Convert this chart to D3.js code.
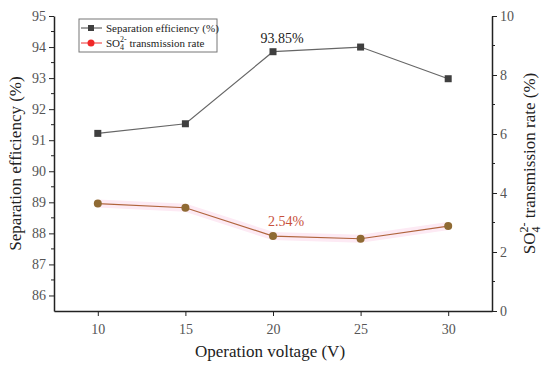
<!DOCTYPE html>
<html>
<head>
<meta charset="utf-8">
<script src="https://cdn.jsdelivr.net/npm/d3@7"></script>
<style>
  body { margin: 0; background: #fff; }
</style>
</head>
<body>
<svg id="chart" width="550" height="369" font-family="Liberation Serif"></svg>
<script>
// voltage categories (V)
var voltages = [10, 15, 20, 25, 30]
// separation efficiency (%)
var separation = [91.22, 91.53, 93.85, 94.0, 92.98]
// SO4 2- transmission rate (%)
var transmission = [3.64, 3.50, 2.54, 2.45, 2.88]
var xTicks = [10, 15, 20, 25, 30]
var leftTicks = [86, 87, 88, 89, 90, 91, 92, 93, 94, 95]
var rightTicks = [0, 2, 4, 6, 8, 10]

var FONT = "Liberation Serif"
var svg = d3.select("#chart")
var plotL = 54, plotR = 492, plotT = 16, plotB = 311

var x = d3.scaleLinear().domain([7.5, 32.5]).range([plotL, plotR])
var yL = d3.scaleLinear().domain([85.5, 95]).range([plotB, plotT])
var yR = d3.scaleLinear().domain([0, 10]).range([plotB, plotT])

// axes
var xAxis = svg.append("g").attr("transform", "translate(0," + plotB + ")")
  .call(d3.axisBottom(x).tickValues(xTicks).tickSize(5).tickSizeOuter(0))
var lAxis = svg.append("g").attr("transform", "translate(" + plotL + ",0)")
  .call(d3.axisLeft(yL).tickValues(leftTicks).tickSize(5).tickSizeOuter(0))
var rAxis = svg.append("g").attr("transform", "translate(" + plotR + ",0)")
  .call(d3.axisRight(yR).tickValues(rightTicks).tickSize(5).tickSizeOuter(0))

// minor ticks
svg.append("g").selectAll("line")
  .data(d3.range(86.5, 95, 1))
  .enter().append("line")
  .attr("x1", plotL).attr("x2", plotL - 3)
  .attr("y1", function(d){ return yL(d) }).attr("y2", function(d){ return yL(d) })
  .attr("stroke", "#222").attr("stroke-width", 1)
svg.append("g").selectAll("line")
  .data([1, 3, 5, 7, 9])
  .enter().append("line")
  .attr("x1", plotR).attr("x2", plotR + 3)
  .attr("y1", function(d){ return yR(d) }).attr("y2", function(d){ return yR(d) })
  .attr("stroke", "#222").attr("stroke-width", 1)

;[xAxis, lAxis, rAxis].forEach(function(a){
  a.attr("font-family", FONT)
  a.select(".domain").attr("stroke", "#222").attr("stroke-width", 1.5)
  a.selectAll(".tick line").attr("stroke", "#222").attr("stroke-width", 1)
  a.selectAll(".tick text").attr("font-family", FONT).attr("font-size", 14).attr("fill", "#555")
})
xAxis.selectAll(".tick text").attr("dy", "1.1em")

// axis titles
svg.append("text").attr("x", 270).attr("y", 357).attr("text-anchor", "middle")
  .attr("font-family", FONT).attr("font-size", 17).attr("fill", "#222").text("Operation voltage (V)")
svg.append("text").attr("transform", "translate(21," + ((plotT + plotB) / 2) + ") rotate(-90)")
  .attr("text-anchor", "middle").attr("font-family", FONT).attr("font-size", 17).attr("fill", "#222")
  .text("Separation efficiency (%)")
var rt = svg.append("text").attr("transform", "translate(535," + ((plotT + plotB) / 2) + ") rotate(-90)")
  .attr("text-anchor", "middle").attr("font-family", FONT).attr("font-size", 17).attr("fill", "#222")
rt.append("tspan").text("SO")
rt.append("tspan").attr("font-size", 12).attr("dy", 5).text("4")
rt.append("tspan").attr("font-size", 12).attr("dy", -12).attr("dx", -6).text("2-")
rt.append("tspan").attr("dy", 7).text(" transmission rate (%)")

// pink glow band behind transmission line
var lineR = d3.line().x(function(d, i){ return x(voltages[i]) }).y(function(d){ return yR(d) })
svg.append("path").datum(transmission).attr("d", lineR)
  .attr("fill", "none").attr("stroke", "#fdeaf4").attr("stroke-width", 8).attr("stroke-linecap", "butt")

// separation series
var lineL = d3.line().x(function(d, i){ return x(voltages[i]) }).y(function(d){ return yL(d) })
svg.append("path").datum(separation).attr("d", lineL)
  .attr("fill", "none").attr("stroke", "#666").attr("stroke-width", 1.2)
svg.append("g").selectAll("rect")
  .data(separation)
  .enter().append("rect")
  .attr("x", function(d, i){ return x(voltages[i]) - 3.5 })
  .attr("y", function(d){ return yL(d) - 3.5 })
  .attr("width", 7).attr("height", 7)
  .attr("fill", "#3f3f3f")

// transmission series
svg.append("path").datum(transmission).attr("d", lineR)
  .attr("fill", "none").attr("stroke", "#b0643c").attr("stroke-width", 1.2)
svg.append("g").selectAll("circle")
  .data(transmission)
  .enter().append("circle")
  .attr("cx", function(d, i){ return x(voltages[i]) })
  .attr("cy", function(d){ return yR(d) })
  .attr("r", 4)
  .attr("fill", "#8f6a33")

// annotations
svg.append("text").attr("x", x(20) + 9).attr("y", yL(93.85) - 9).attr("text-anchor", "middle")
  .attr("font-family", FONT).attr("font-size", 14).attr("fill", "#222").text("93.85%")
svg.append("text").attr("x", x(20) + 13).attr("y", yR(2.54) - 10).attr("text-anchor", "middle")
  .attr("font-family", FONT).attr("font-size", 14).attr("fill", "#c8503c").text("2.54%")

// legend
var lg = svg.append("g").attr("transform", "translate(79,19)").attr("font-family", FONT)
lg.append("rect").attr("width", 138).attr("height", 33)
  .attr("fill", "#fff").attr("stroke", "#777").attr("stroke-width", 1)
lg.append("line").attr("x1", 2).attr("x2", 23).attr("y1", 9).attr("y2", 9).attr("stroke", "#444")
lg.append("rect").attr("x", 9).attr("y", 6).attr("width", 6).attr("height", 6).attr("fill", "#3f3f3f")
lg.append("text").attr("x", 27).attr("y", 13).attr("font-size", 11).attr("fill", "#222")
  .text("Separation efficiency (%)")
lg.append("line").attr("x1", 2).attr("x2", 23).attr("y1", 24).attr("y2", 24).attr("stroke", "#f03030")
lg.append("circle").attr("cx", 12).attr("cy", 24).attr("r", 3.5).attr("fill", "#f02828")
var lt = lg.append("text").attr("x", 27).attr("y", 28).attr("font-size", 11).attr("fill", "#222")
lt.append("tspan").text("SO")
lt.append("tspan").attr("font-size", 8).attr("dy", 3).text("4")
lt.append("tspan").attr("font-size", 8).attr("dy", -8).attr("dx", -4).text("2-")
lt.append("tspan").attr("dy", 5).text(" transmission rate")
</script>
</body>
</html>
